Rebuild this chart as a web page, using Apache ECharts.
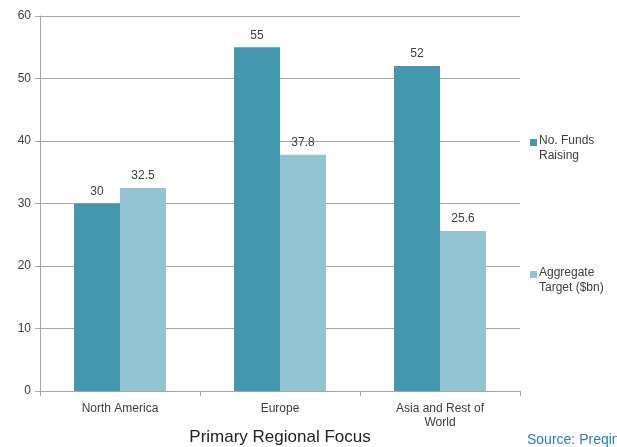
<!DOCTYPE html>
<html>
<head>
<meta charset="utf-8">
<script src="https://cdn.jsdelivr.net/npm/echarts@6/dist/echarts.min.js"></script>
<style>
  html, body { margin: 0; padding: 0; background: #ffffff; }
  #chart { width: 617px; height: 447px; }
</style>
</head>
<body>
<div id="chart"></div>
<script>
// Regional focus of funds currently on the road
const regions = ['North America', 'Europe', 'Asia and Rest of World'];
const fundsRaising = [30, 55, 52];
const aggregateTarget = [32.5, 37.8, 25.6];
const seriesNames = ['No. Funds\nRaising', 'Aggregate\nTarget ($bn)'];
const yTicks = { min: 0, max: 60, interval: 10 };

const chart = echarts.init(document.getElementById('chart'), null, { renderer: 'canvas' });

const axisGray = '#a6a6a6';
const textGray = '#404040';
const darkTeal = '#4397ae';
const lightTeal = '#93c4d4';

// Square marker sitting at the top of a taller box so it lines up with the first text line
const legendIcon = 'path://M0,0L10,0L10,10L0,10Z M0,26L0.01,26L0.01,26.01Z';

function legendAt(name, top) {
  return {
    data: [{ name: name, icon: legendIcon }],
    orient: 'vertical',
    left: 530,
    top: top,
    padding: 0,
    itemWidth: 7,
    itemHeight: 18,
    itemGap: 0,
    selectedMode: false,
    textStyle: {
      fontFamily: 'Liberation Sans',
      fontSize: 12,
      color: textGray,
      lineHeight: 15,
      padding: [0, 0, 0, -3]
    }
  };
}

chart.setOption({
  animation: false,
  backgroundColor: '#ffffff',
  grid: { left: 40, right: 97, top: 16, bottom: 56, containLabel: false, outerBoundsMode: 'none' },
  legend: [legendAt(seriesNames[0], 133), legendAt(seriesNames[1], 265)],
  xAxis: {
    type: 'category',
    data: regions,
    name: 'Primary Regional Focus',
    nameLocation: 'middle',
    nameGap: 38,
    nameMoveOverlap: false,
    nameTextStyle: { fontFamily: 'Liberation Sans', fontSize: 17, color: '#222222' },
    axisLine: { lineStyle: { color: axisGray, width: 1 } },
    axisTick: { show: true, length: 5, alignWithLabel: false, lineStyle: { color: axisGray } },
    axisLabel: {
      fontFamily: 'Liberation Sans',
      fontSize: 12,
      color: textGray,
      margin: 11,
      lineHeight: 14,
      formatter: function (v) { return v.replace('Rest of ', 'Rest of\n'); }
    }
  },
  yAxis: {
    type: 'value',
    min: yTicks.min,
    max: yTicks.max,
    interval: yTicks.interval,
    axisLine: { show: true, lineStyle: { color: axisGray, width: 1 } },
    axisTick: { show: true, length: 5, lineStyle: { color: axisGray } },
    splitLine: { show: true, lineStyle: { color: axisGray, width: 1 } },
    axisLabel: { fontFamily: 'Liberation Sans', fontSize: 12, color: textGray, margin: 9 }
  },
  series: [
    {
      name: seriesNames[0],
      type: 'bar',
      data: fundsRaising,
      barGap: '0%',
      barCategoryGap: '42.5%',
      itemStyle: { color: darkTeal },
      label: {
        show: true, position: 'top', distance: 6,
        fontFamily: 'Liberation Sans', fontSize: 12, color: textGray
      }
    },
    {
      name: seriesNames[1],
      type: 'bar',
      data: aggregateTarget,
      barGap: '0%',
      barCategoryGap: '42.5%',
      itemStyle: { color: lightTeal },
      label: {
        show: true, position: 'top', distance: 6,
        fontFamily: 'Liberation Sans', fontSize: 12, color: textGray
      }
    }
  ],
  graphic: [
    {
      type: 'text',
      left: 527,
      top: 433,
      style: {
        text: 'Source: Preqin',
        fontFamily: 'Liberation Sans',
        fontSize: 14,
        fill: '#2e7dbf'
      }
    }
  ]
});
</script>
</body>
</html>
